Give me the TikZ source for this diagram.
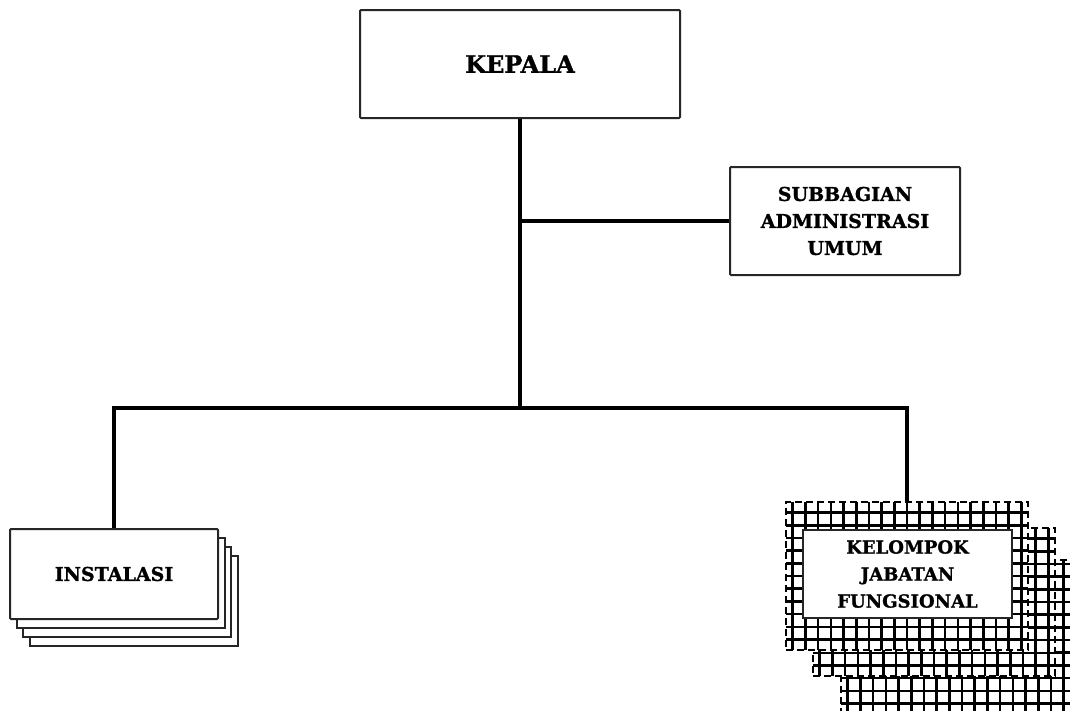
\documentclass[tikz,border=0pt]{standalone}
\usepackage{fontspec}
\setmainfont{DejaVu Serif}[BoldFeatures={FakeBold=1.2}]
\tikzset{
  box/.style={draw=black!85, line width=2pt, fill=white, rounded corners=1pt, align=center, font=\bfseries},
  conn/.style={line width=3.2pt, black},
  stackbox/.style={draw=black!85, line width=2pt, fill=white, minimum width=208pt, minimum height=90pt},
  gridbox/.style={draw=black, line width=2pt, dash pattern=on 7pt off 4pt, fill=white,
    minimum width=242pt, minimum height=148pt,
    path picture={\draw[solid, line width=2.6pt, step=12.7pt]
      (path picture bounding box.south west) grid (path picture bounding box.north east);}},
}
\begin{document}
\begin{tikzpicture}[x=1pt,y=-1pt]
\useasboundingbox (0,0) rectangle (1070,710);
% KEPALA
\node[box, minimum width=320pt, minimum height=108pt, font=\bfseries\fontsize{24}{28}\selectfont] (kepala) at (520,64) {KEPALA};
% SUBBAGIAN
\node[box, minimum width=230pt, minimum height=108pt, font=\bfseries\fontsize{19}{27}\selectfont] (sub) at (845,221) {SUBBAGIAN\\ADMINISTRASI\\UMUM};
% INSTALASI stack
\node[stackbox] (inst3) at (133.5,601) {};
\node[stackbox] (inst2) at (127,592) {};
\node[stackbox] (inst1) at (120.5,583) {};
\node[box, minimum width=208pt, minimum height=90pt, font=\bfseries\fontsize{19}{24}\selectfont] (inst) at (114,574) {INSTALASI};
% KELOMPOK stack
\node[gridbox, minimum height=160pt] (kjf3) at (962,640) {};
\node[gridbox] (kjf2) at (934,602) {};
\node[gridbox] (kjf1) at (907,576) {};
\node[box, rounded corners=0pt, minimum width=209pt, minimum height=88pt, font=\bfseries\fontsize{18}{27}\selectfont] (kjf) at (907.5,574) {KELOMPOK\\JABATAN\\FUNGSIONAL};
% connectors
\coordinate (j1) at (520,221);
\coordinate (bus) at (520,408);
\coordinate (busL) at (114,408);
\coordinate (busR) at (907,408);
\draw[conn] (kepala.south) -- (bus);
\draw[conn] (j1) -- (sub.west);
\draw[conn, line cap=rect] (busL) -- (busR);
\draw[conn] (busL) -- (inst.north);
\draw[conn] (busR) -- (kjf1.north);
\end{tikzpicture}
\end{document}
